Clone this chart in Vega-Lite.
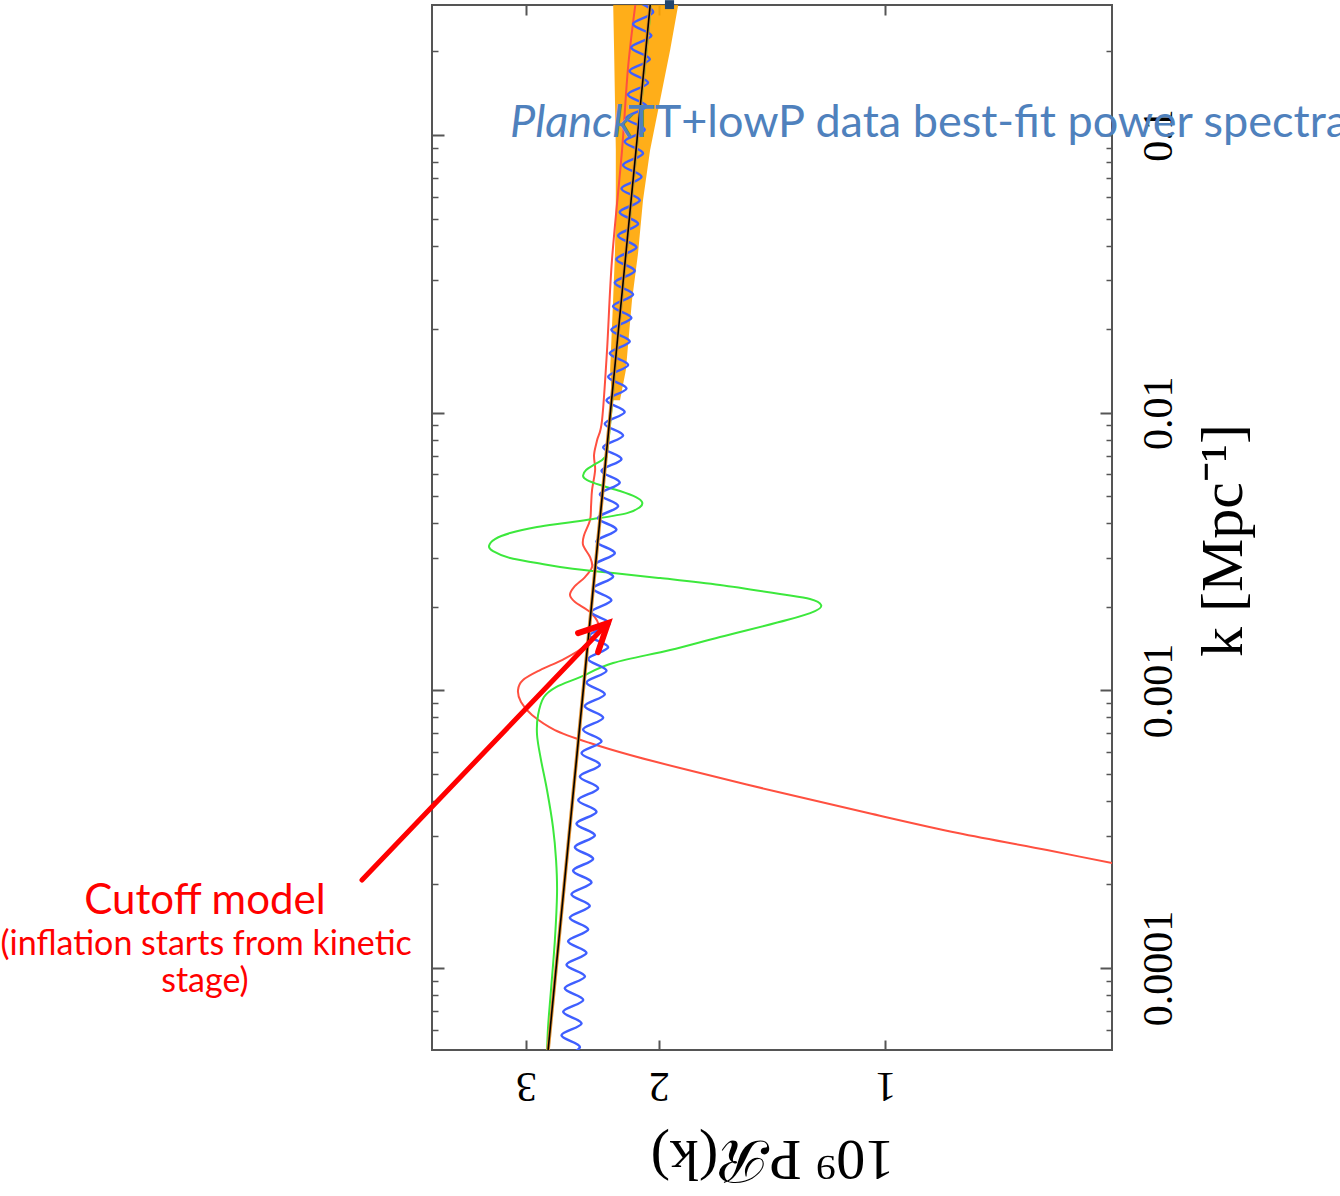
{
  "$schema": "https://vega.github.io/schema/vega-lite/v6.json",
  "width": 680,
  "height": 1045,
  "autosize": "none",
  "padding": {"left": 432, "top": 5, "right": 228, "bottom": 146},
  "background": "white",
  "config": {
    "view": {"stroke": "#555", "strokeWidth": 2},
    "axis": {"labelFont": "Liberation Serif", "titleFont": "Liberation Serif", "labelColor": "#000", "titleColor": "#000", "tickColor": "#555", "domain": false, "grid": false, "titleFontWeight": "normal"}
  },
  "resolve": {"axis": {"x": "independent", "y": "independent"}},
  "datasets": {
    "band": [
      {"k": 0.306, "p": 2.299, "p2": 1.879},
      {"k": 0.2023, "p": 2.292, "p2": 1.931},
      {"k": 0.1336, "p": 2.286, "p2": 1.991},
      {"k": 0.0883, "p": 2.280, "p2": 2.053},
      {"k": 0.0583, "p": 2.280, "p2": 2.098},
      {"k": 0.03758, "p": 2.286, "p2": 2.130},
      {"k": 0.02544, "p": 2.299, "p2": 2.170},
      {"k": 0.01424, "p": 2.320, "p2": 2.211},
      {"k": 0.0111, "p": 2.307, "p2": 2.251}
    ],
    "red": [
      {"k": 2.075e-4, "p": 0.382}, {"k": 2.389e-4, "p": 0.500}, {"k": 2.661e-4, "p": 0.610}, {"k": 3.064e-4, "p": 0.801},
      {"k": 3.618e-4, "p": 1.054}, {"k": 4.305e-4, "p": 1.388}, {"k": 5.167e-4, "p": 1.828}, {"k": 5.852e-4, "p": 2.183},
      {"k": 6.463e-4, "p": 2.467}, {"k": 7.199e-4, "p": 2.747}, {"k": 8.152e-4, "p": 2.946}, {"k": 9.08e-4, "p": 3.047},
      {"k": 1.003e-3, "p": 3.075}, {"k": 1.090e-3, "p": 3.028}, {"k": 1.184e-3, "p": 2.874}, {"k": 1.286e-3, "p": 2.688},
      {"k": 1.421e-3, "p": 2.527}, {"k": 1.622e-3, "p": 2.414}, {"k": 1.748e-3, "p": 2.407}, {"k": 1.915e-3, "p": 2.467},
      {"k": 2.081e-3, "p": 2.583}, {"k": 2.205e-3, "p": 2.623}, {"k": 2.356e-3, "p": 2.591}, {"k": 2.560e-3, "p": 2.505},
      {"k": 2.781e-3, "p": 2.452}, {"k": 3.021e-3, "p": 2.467}, {"k": 3.338e-3, "p": 2.520}, {"k": 3.627e-3, "p": 2.512},
      {"k": 4.107e-3, "p": 2.467}, {"k": 4.651e-3, "p": 2.459}, {"k": 5.266e-3, "p": 2.452}, {"k": 6.216e-3, "p": 2.429},
      {"k": 7.04e-3, "p": 2.437}, {"k": 7.97e-3, "p": 2.414}, {"k": 9.41e-3, "p": 2.378}, {"k": 1.681e-2, "p": 2.342},
      {"k": 3.545e-2, "p": 2.307}, {"k": 8.83e-2, "p": 2.237}, {"k": 0.1757, "p": 2.196}, {"k": 0.306, "p": 2.144}
    ],
    "green": [
      {"k": 4.863e-5, "p": 2.814}, {"k": 6.135e-5, "p": 2.805}, {"k": 8.337e-5, "p": 2.780}, {"k": 1.262e-4, "p": 2.747},
      {"k": 1.864e-4, "p": 2.729}, {"k": 2.449e-4, "p": 2.737}, {"k": 3.221e-4, "p": 2.763}, {"k": 4.377e-4, "p": 2.814},
      {"k": 5.614e-4, "p": 2.866}, {"k": 6.91e-4, "p": 2.901}, {"k": 8.152e-4, "p": 2.892}, {"k": 9.465e-4, "p": 2.840},
      {"k": 1.028e-3, "p": 2.737}, {"k": 1.117e-3, "p": 2.543}, {"k": 1.255e-3, "p": 2.299}, {"k": 1.398e-3, "p": 1.931},
      {"k": 1.557e-3, "p": 1.658}, {"k": 1.792e-3, "p": 1.351}, {"k": 1.931e-3, "p": 1.240}, {"k": 2.029e-3, "p": 1.217},
      {"k": 2.133e-3, "p": 1.259}, {"k": 2.223e-3, "p": 1.380}, {"k": 2.395e-3, "p": 1.658}, {"k": 2.538e-3, "p": 1.991},
      {"k": 2.646e-3, "p": 2.299}, {"k": 2.690e-3, "p": 2.444}, {"k": 2.781e-3, "p": 2.704}, {"k": 2.875e-3, "p": 2.901},
      {"k": 2.996e-3, "p": 3.150}, {"k": 3.176e-3, "p": 3.319}, {"k": 3.311e-3, "p": 3.360}, {"k": 3.508e-3, "p": 3.299},
      {"k": 3.687e-3, "p": 3.150}, {"k": 3.875e-3, "p": 2.901}, {"k": 4.005e-3, "p": 2.663}, {"k": 4.14e-3, "p": 2.444},
      {"k": 4.35e-3, "p": 2.203}, {"k": 4.573e-3, "p": 2.118}, {"k": 4.767e-3, "p": 2.104}, {"k": 4.969e-3, "p": 2.144},
      {"k": 5.223e-3, "p": 2.251}, {"k": 5.49e-3, "p": 2.392}, {"k": 5.723e-3, "p": 2.489}, {"k": 5.915e-3, "p": 2.520},
      {"k": 6.216e-3, "p": 2.497}, {"k": 6.533e-3, "p": 2.429}, {"k": 6.866e-3, "p": 2.364}, {"k": 7.649e-3, "p": 2.335},
      {"k": 0.02, "p": 2.258}, {"k": 0.3, "p": 2.045}
    ],
    "blue": [
      {"k": 4.713e-5, "p": 2.706},
      {"k": 5.196e-5, "p": 2.545}, {"k": 5.730e-5, "p": 2.692}, {"k": 6.316e-5, "p": 2.532}, {"k": 6.964e-5, "p": 2.678},
      {"k": 7.677e-5, "p": 2.519}, {"k": 8.463e-5, "p": 2.665}, {"k": 9.328e-5, "p": 2.506}, {"k": 1.0284e-4, "p": 2.651},
      {"k": 1.1337e-4, "p": 2.494}, {"k": 1.2498e-4, "p": 2.638}, {"k": 1.3778e-4, "p": 2.481}, {"k": 1.5190e-4, "p": 2.624},
      {"k": 1.6745e-4, "p": 2.469}, {"k": 1.8459e-4, "p": 2.611}, {"k": 2.0350e-4, "p": 2.456}, {"k": 2.2435e-4, "p": 2.598},
      {"k": 2.4735e-4, "p": 2.444}, {"k": 2.7268e-4, "p": 2.584}, {"k": 3.0061e-4, "p": 2.431}, {"k": 3.3137e-4, "p": 2.571},
      {"k": 3.6533e-4, "p": 2.419}, {"k": 4.0275e-4, "p": 2.558}, {"k": 4.4401e-4, "p": 2.407}, {"k": 4.8946e-4, "p": 2.545},
      {"k": 5.3963e-4, "p": 2.394}, {"k": 5.9487e-4, "p": 2.532}, {"k": 6.5580e-4, "p": 2.382}, {"k": 7.2295e-4, "p": 2.520},
      {"k": 7.9706e-4, "p": 2.370}, {"k": 8.7865e-4, "p": 2.507}, {"k": 9.6873e-4, "p": 2.358}, {"k": 1.0679e-3, "p": 2.494},
      {"k": 1.1773e-3, "p": 2.346}, {"k": 1.2979e-3, "p": 2.481}, {"k": 1.4309e-3, "p": 2.334}, {"k": 1.5775e-3, "p": 2.469},
      {"k": 1.7391e-3, "p": 2.323}, {"k": 1.9170e-3, "p": 2.456}, {"k": 2.1135e-3, "p": 2.311}, {"k": 2.3301e-3, "p": 2.444},
      {"k": 2.5688e-3, "p": 2.299}, {"k": 2.8317e-3, "p": 2.431}, {"k": 3.1217e-3, "p": 2.287}, {"k": 3.4413e-3, "p": 2.419},
      {"k": 3.7941e-3, "p": 2.276}, {"k": 4.1824e-3, "p": 2.407}, {"k": 4.6110e-3, "p": 2.264}, {"k": 5.0830e-3, "p": 2.394},
      {"k": 5.6038e-3, "p": 2.253}, {"k": 6.1775e-3, "p": 2.382}, {"k": 6.8107e-3, "p": 2.241}, {"k": 7.5079e-3, "p": 2.370},
      {"k": 8.2775e-3, "p": 2.230}, {"k": 9.1247e-3, "p": 2.358}, {"k": 1.0060e-2, "p": 2.219}, {"k": 1.1090e-2, "p": 2.346},
      {"k": 1.2227e-2, "p": 2.207}, {"k": 1.3478e-2, "p": 2.334}, {"k": 1.4859e-2, "p": 2.196}, {"k": 1.6381e-2, "p": 2.322},
      {"k": 1.8059e-2, "p": 2.185}, {"k": 1.9908e-2, "p": 2.311}, {"k": 2.1948e-2, "p": 2.174}, {"k": 2.4195e-2, "p": 2.299},
      {"k": 2.6673e-2, "p": 2.163}, {"k": 2.9403e-2, "p": 2.287}, {"k": 3.2418e-2, "p": 2.152}, {"k": 3.5736e-2, "p": 2.276},
      {"k": 3.9399e-2, "p": 2.141}, {"k": 4.3432e-2, "p": 2.264}, {"k": 4.7884e-2, "p": 2.130}, {"k": 5.2785e-2, "p": 2.253},
      {"k": 5.8195e-2, "p": 2.119}, {"k": 6.4152e-2, "p": 2.241}, {"k": 7.0727e-2, "p": 2.108}, {"k": 7.7967e-2, "p": 2.230},
      {"k": 8.5958e-2, "p": 2.098}, {"k": 9.4758e-2, "p": 2.219}, {"k": 0.10447, "p": 2.087}, {"k": 0.11517, "p": 2.208},
      {"k": 0.12697, "p": 2.076}, {"k": 0.13997, "p": 2.197}, {"k": 0.15431, "p": 2.066}, {"k": 0.17011, "p": 2.186},
      {"k": 0.18754, "p": 2.055}, {"k": 0.20674, "p": 2.175}, {"k": 0.22793, "p": 2.045}, {"k": 0.25127, "p": 2.163},
      {"k": 0.27702, "p": 2.034}, {"k": 0.30538, "p": 2.152}
    ],
    "black": [{"k": 5e-5, "p": 2.806}, {"k": 0.3, "p": 2.051}],
    "shaft": [{"k": 2.075e-4, "p": 4.955}, {"k": 1.70e-3, "p": 2.36}],
    "head": [{"k": 1.609e-3, "p": 2.559, "o": 1}, {"k": 1.748e-3, "p": 2.335, "o": 2}, {"k": 1.374e-3, "p": 2.407, "o": 3}],
    "box": [{"k": 0.2842, "k2": 0.306, "p": 1.962, "p2": 1.908}],
    "bigred": [{"k": 1.75e-4, "p": 8.01, "t": "Cutoff model"}],
    "smallred": [{"k": 1.211e-4, "p": 7.98, "t": "(inflation starts from kinetic"}, {"k": 8.907e-5, "p": 8.01, "t": "stage)"}],
    "planck": [{"k": 0.1104, "p": 3.150, "t": "Planck"}],
    "rest": [{"k": 0.1104, "p": 2.196, "t": "TT+lowP data best-fit power spectra"}]
  },
  "layer": [
    {
      "data": {"name": "band"},
      "mark": {"type": "area", "orient": "horizontal", "color": "#FFA500", "opacity": 0.9, "clip": true},
      "encoding": {
        "y": {"field": "k", "type": "quantitative", "scale": {"type": "log", "domain": [5.07e-5, 0.294], "nice": false},
          "axis": {"orient": "right", "values": [0.0001, 0.001, 0.01, 0.1], "format": "~g", "labelAngle": 270, "labelAlign": "center", "labelBaseline": "top", "labelFontSize": 42, "labelPadding": 38, "tickSize": -12, "tickWidth": 2, "title": "k [Mpc⁻¹]", "titleFontSize": 60, "titleAngle": 270, "titleX": 82, "titleY": 535, "titleAlign": "center", "titleBaseline": "top"}},
        "x": {"field": "p", "type": "quantitative", "scale": {"type": "log", "domain": [0.5, 4], "reverse": true, "nice": false},
          "axis": {"orient": "bottom", "values": [1, 2, 3], "format": "~g", "labelAngle": 180, "labelFontSize": 42, "labelPadding": 23, "tickSize": -10, "tickWidth": 2, "title": "10⁹ Pℛ(k)", "titleFontSize": 58, "titleAngle": 180, "titleX": 340, "titleY": 107, "titleAlign": "center", "titleBaseline": "middle"}},
        "x2": {"field": "p2"}
      }
    },
    {
      "data": {"name": "red"},
      "mark": {"type": "line", "color": "#FF5040", "strokeWidth": 2, "interpolate": "cardinal", "clip": true},
      "encoding": {
        "y": {"field": "k", "type": "quantitative", "scale": {"type": "log", "domain": [5.07e-5, 0.294], "nice": false},
          "axis": {"orient": "left", "values": [0.0001, 0.001, 0.01, 0.1], "labels": false, "tickSize": -12, "tickWidth": 2, "title": null}},
        "x": {"field": "p", "type": "quantitative", "scale": {"type": "log", "domain": [0.5, 4], "reverse": true, "nice": false},
          "axis": {"orient": "top", "values": [1, 2, 3], "labels": false, "tickSize": -10, "tickWidth": 2, "title": null}},
        "order": {"field": "k"}
      }
    },
    {
      "data": {"name": "green"},
      "mark": {"type": "line", "color": "#3CE83C", "strokeWidth": 2, "interpolate": "cardinal", "clip": true},
      "encoding": {
        "y": {"field": "k", "type": "quantitative", "scale": {"type": "log", "domain": [5.07e-5, 0.294], "nice": false},
          "axis": {"orient": "left", "values": [6e-5, 7e-5, 8e-5, 9e-5, 2e-4, 3e-4, 4e-4, 5e-4, 6e-4, 7e-4, 8e-4, 9e-4, 2e-3, 3e-3, 4e-3, 5e-3, 6e-3, 7e-3, 8e-3, 9e-3, 0.02, 0.03, 0.04, 0.05, 0.06, 0.07, 0.08, 0.09, 0.2], "labels": false, "tickSize": -6, "tickWidth": 1.5, "title": null}},
        "x": {"field": "p", "type": "quantitative", "scale": {"type": "log", "domain": [0.5, 4], "reverse": true, "nice": false}, "axis": null},
        "order": {"field": "k"}
      }
    },
    {
      "data": {"name": "blue"},
      "mark": {"type": "line", "color": "#3F5FFF", "strokeWidth": 2.5, "interpolate": "cardinal", "clip": true},
      "encoding": {
        "y": {"field": "k", "type": "quantitative", "scale": {"type": "log", "domain": [5.07e-5, 0.294], "nice": false},
          "axis": {"orient": "right", "values": [6e-5, 7e-5, 8e-5, 9e-5, 2e-4, 3e-4, 4e-4, 5e-4, 6e-4, 7e-4, 8e-4, 9e-4, 2e-3, 3e-3, 4e-3, 5e-3, 6e-3, 7e-3, 8e-3, 9e-3, 0.02, 0.03, 0.04, 0.05, 0.06, 0.07, 0.08, 0.09, 0.2], "labels": false, "tickSize": -6, "tickWidth": 1.5, "title": null}},
        "x": {"field": "p", "type": "quantitative", "scale": {"type": "log", "domain": [0.5, 4], "reverse": true, "nice": false}, "axis": null},
        "order": {"field": "k"}
      }
    },
    {
      "data": {"name": "black"},
      "mark": {"type": "line", "color": "#E09030", "strokeWidth": 3.5, "clip": true},
      "encoding": {
        "y": {"field": "k", "type": "quantitative", "scale": {"type": "log", "domain": [5.07e-5, 0.294], "nice": false}, "axis": null},
        "x": {"field": "p", "type": "quantitative", "scale": {"type": "log", "domain": [0.5, 4], "reverse": true, "nice": false}, "axis": null},
        "order": {"field": "k"}
      }
    },
    {
      "data": {"name": "black"},
      "mark": {"type": "line", "color": "#000000", "strokeWidth": 1.6, "clip": true},
      "encoding": {
        "y": {"field": "k", "type": "quantitative", "scale": {"type": "log", "domain": [5.07e-5, 0.294], "nice": false}, "axis": null},
        "x": {"field": "p", "type": "quantitative", "scale": {"type": "log", "domain": [0.5, 4], "reverse": true, "nice": false}, "axis": null},
        "order": {"field": "k"}
      }
    },
    {
      "data": {"name": "shaft"},
      "mark": {"type": "line", "color": "#FF0000", "strokeWidth": 5, "strokeCap": "round"},
      "encoding": {
        "y": {"field": "k", "type": "quantitative", "scale": {"type": "log", "domain": [5.07e-5, 0.294], "nice": false}, "axis": null},
        "x": {"field": "p", "type": "quantitative", "scale": {"type": "log", "domain": [0.5, 4], "reverse": true, "nice": false}, "axis": null},
        "order": {"field": "k"}
      }
    },
    {
      "data": {"name": "head"},
      "mark": {"type": "line", "color": "#FF0000", "strokeWidth": 6, "strokeCap": "round", "strokeJoin": "miter"},
      "encoding": {
        "y": {"field": "k", "type": "quantitative", "scale": {"type": "log", "domain": [5.07e-5, 0.294], "nice": false}, "axis": null},
        "x": {"field": "p", "type": "quantitative", "scale": {"type": "log", "domain": [0.5, 4], "reverse": true, "nice": false}, "axis": null},
        "order": {"field": "o"}
      }
    },
    {
      "data": {"name": "box"},
      "mark": {"type": "rect", "color": "#23466E"},
      "encoding": {
        "y": {"field": "k", "type": "quantitative", "scale": {"type": "log", "domain": [5.07e-5, 0.294], "nice": false}, "axis": null},
        "y2": {"field": "k2"},
        "x": {"field": "p", "type": "quantitative", "scale": {"type": "log", "domain": [0.5, 4], "reverse": true, "nice": false}, "axis": null},
        "x2": {"field": "p2"}
      }
    },
    {
      "data": {"name": "bigred"},
      "mark": {"type": "text", "font": "Lato", "fontSize": 42, "color": "#FF0000", "align": "center", "baseline": "middle"},
      "encoding": {
        "y": {"field": "k", "type": "quantitative", "scale": {"type": "log", "domain": [5.07e-5, 0.294], "nice": false}, "axis": null},
        "x": {"field": "p", "type": "quantitative", "scale": {"type": "log", "domain": [0.5, 4], "reverse": true, "nice": false}, "axis": null},
        "text": {"field": "t"}
      }
    },
    {
      "data": {"name": "smallred"},
      "mark": {"type": "text", "font": "Lato", "fontSize": 34, "color": "#FF0000", "align": "center", "baseline": "middle"},
      "encoding": {
        "y": {"field": "k", "type": "quantitative", "scale": {"type": "log", "domain": [5.07e-5, 0.294], "nice": false}, "axis": null},
        "x": {"field": "p", "type": "quantitative", "scale": {"type": "log", "domain": [0.5, 4], "reverse": true, "nice": false}, "axis": null},
        "text": {"field": "t"}
      }
    },
    {
      "data": {"name": "planck"},
      "mark": {"type": "text", "font": "Lato", "fontSize": 45, "fontStyle": "italic", "color": "#4F81BD", "align": "left", "baseline": "middle"},
      "encoding": {
        "y": {"field": "k", "type": "quantitative", "scale": {"type": "log", "domain": [5.07e-5, 0.294], "nice": false}, "axis": null},
        "x": {"field": "p", "type": "quantitative", "scale": {"type": "log", "domain": [0.5, 4], "reverse": true, "nice": false}, "axis": null},
        "text": {"field": "t"}
      }
    },
    {
      "data": {"name": "rest"},
      "mark": {"type": "text", "font": "Lato", "fontSize": 45, "color": "#4F81BD", "align": "left", "baseline": "middle"},
      "encoding": {
        "y": {"field": "k", "type": "quantitative", "scale": {"type": "log", "domain": [5.07e-5, 0.294], "nice": false}, "axis": null},
        "x": {"field": "p", "type": "quantitative", "scale": {"type": "log", "domain": [0.5, 4], "reverse": true, "nice": false}, "axis": null},
        "text": {"field": "t"}
      }
    }
  ]
}
